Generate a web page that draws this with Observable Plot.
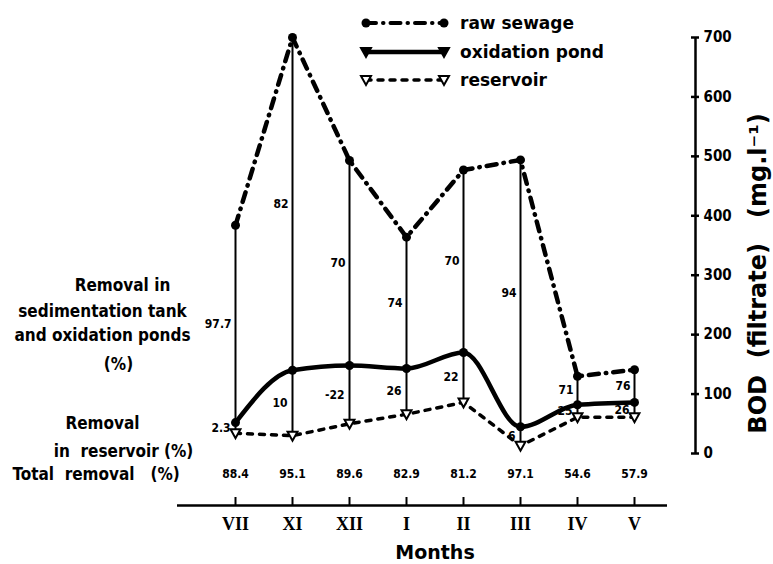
<!DOCTYPE html>
<html><head><meta charset="utf-8">
<script src="https://cdn.jsdelivr.net/npm/d3@7"></script>
<script src="https://cdn.jsdelivr.net/npm/@observablehq/plot@0.6"></script>
<style>
body{margin:0;background:#fff;}
#wrap{position:relative;width:773px;height:564px;}
#wrap svg{display:block;}
#legend{position:absolute;left:0;top:0;}
</style></head><body><div id="wrap"></div>
<script>
// ---- data ----
const months = ["VII","XI","XII","I","II","III","IV","V"];
const rawSewage = [384,700,493,364,477,494,130,141];
const oxidationPond = [52,140,148,143,170,45,82,86];
const reservoir = [34,30,50,66,86,13,61,61];
const removalSedOx = ["97.7","82","70","74","70","94","71","76"];
const removalReservoir = ["2.3","10","-22","26","22","6","25","26"];
const totalRemoval = ["88.4","95.1","89.6","82.9","81.2","97.1","54.6","57.9"];
const bodTicks = [0,100,200,300,400,500,600,700];
const seriesNames = ["raw sewage","oxidation pond","reservoir"];

const rows = months.map((m,i)=>({month:m, raw:rawSewage[i], ox:oxidationPond[i], res:reservoir[i],
  rSO:removalSedOx[i], rRes:removalReservoir[i], total:totalRemoval[i]}));

const cond = "'DejaVu Sans Condensed', 'DejaVu Sans', sans-serif";
const narrow = "'Liberation Sans Narrow', 'DejaVu Sans Condensed', sans-serif";
const wide = "'DejaVu Sans', sans-serif";
const serif = "'Liberation Serif', 'DejaVu Serif', serif";

const triDown = {draw(ctx, size){ const s = Math.sqrt(size);
  ctx.moveTo(-0.62*s,-0.5*s); ctx.lineTo(0.62*s,-0.5*s); ctx.lineTo(0,0.62*s); ctx.closePath(); }};

const lbl = {fontFamily:cond, fontWeight:"bold", fontSize:17, frameAnchor:"top-left",
  textAnchor:"middle", lineAnchor:"middle"};
const small = {fontFamily:narrow, fontWeight:"bold", fontSize:12};

const chart = Plot.plot({
  width:773, height:564,
  marginLeft:232, marginRight:136, marginTop:37, marginBottom:111,
  x:{type:"point", domain:months, padding:0},
  y:{domain:[0,700]},
  style:{background:"white", color:"black", fontFamily:cond},
  marks:[
    Plot.ruleX(rows, {x:"month", y1:"raw", y2:"res", strokeWidth:2}),
    Plot.line(rows, {x:"month", y:"res", curve:"linear", strokeWidth:3.5, strokeDasharray:"5,7"}),
    Plot.line(rows, {x:"month", y:"ox", curve:"monotone-x", strokeWidth:4.5}),
    Plot.line(rows, {x:"month", y:"raw", curve:"linear", strokeWidth:4.5, strokeDasharray:"10,7,0.5,7"}),
    Plot.dot(rows, {x:"month", y:"raw", r:4.5, fill:"black"}),
    Plot.dot(rows, {x:"month", y:"ox", r:4.5, fill:"black"}),
    Plot.dot(rows, {x:"month", y:"res", symbol:triDown, r:4.5, fill:"white", stroke:"black", strokeWidth:2}),
    Plot.text(rows, {x:"month", y:d=>(d.raw+d.ox)/2, text:"rSO", textAnchor:"end", dx:-4, ...small}),
    Plot.text(rows, {x:"month", y:d=>(d.ox+d.res)/2, text:"rRes", textAnchor:"end", dx:-5, ...small}),
    Plot.text(rows, {x:"month", text:"total", frameAnchor:"bottom", lineAnchor:"middle", dy:21, ...small}),
    // right axis
    Plot.axisY({anchor:"right", ticks:bodTicks, tickSize:8, tickPadding:5, dx:53, label:null,
      strokeWidth:2.5, fontFamily:narrow, fontWeight:"bold", fontSize:15}),
    Plot.ruleX([months[months.length-1]], {y1:bodTicks[0], y2:bodTicks[bodTicks.length-1], dx:61, strokeWidth:2.5}),
    Plot.text(["BOD  (filtrate)   (mg.l\u207B\u00B9)"], {frameAnchor:"right", textAnchor:"middle", lineAnchor:"middle",
      dx:121, dy:28, rotate:-90, fontFamily:wide, fontWeight:"bold", fontSize:24}),
    // bottom axis
    Plot.ruleY([0], {dy:52, insetLeft:-55, insetRight:-30, strokeWidth:2.5}),
    Plot.axisX({anchor:"bottom", dy:44, tickSize:8, strokeWidth:2, tickFormat:()=>"", label:null}),
    Plot.axisX({anchor:"bottom", dy:52, tickSize:0, tickPadding:12, label:null,
      fontFamily:serif, fontWeight:"bold", fontSize:18}),
    Plot.text(["Months"], {frameAnchor:"bottom", lineAnchor:"middle", dy:99,
      fontFamily:wide, fontWeight:"bold", fontSize:19}),
    // left row labels
    Plot.text(["Removal in"], {...lbl, dx:-110, dy:248}),
    Plot.text(["sedimentation tank\nand oxidation ponds"], {...lbl, dx:-130, dy:284, lineHeight:1.42}),
    Plot.text(["(%)"], {...lbl, dx:-114, dy:327}),
    Plot.text(["Removal"], {...lbl, dx:-130, dy:386}),
    Plot.text(["in  reservoir (%)"], {...lbl, dx:-109, dy:414}),
    Plot.text(["Total  removal   (%)"], {...lbl, textAnchor:"start", dx:-220, dy:437})
  ]
});
document.getElementById("wrap").appendChild(chart);

// legend overlay
const lg = d3.select("#wrap").append("svg").attr("id","legend").attr("width",773).attr("height",100);
const ys = [23,52,80];
const styles = [
  {dash:"10,7,0.5,7", w:4, mark:"dot"},
  {dash:null, w:4.5, mark:"tri"},
  {dash:"5,7", w:3.5, mark:"otri"}
];
seriesNames.forEach((name,i)=>{
  const y = ys[i], st = styles[i];
  const g = lg.append("g");
  g.append("line").attr("x1",366).attr("x2",444).attr("y1",y).attr("y2",y)
    .attr("stroke","black").attr("stroke-width",st.w).attr("stroke-linecap","round")
    .attr("stroke-dasharray",st.dash);
  [366,444].forEach(x=>{
    if(st.mark==="dot") g.append("circle").attr("cx",x).attr("cy",y).attr("r",4.5).attr("fill","black");
    else g.append("path").attr("d",`M${x-5},${y-4}L${x+5},${y-4}L${x},${y+5}Z`)
      .attr("fill",st.mark==="tri"?"black":"white").attr("stroke","black").attr("stroke-width",2);
  });
  g.append("text").attr("x",460).attr("y",y).attr("dy","0.35em")
    .attr("font-family","'DejaVu Sans', sans-serif").attr("font-weight","bold").attr("font-size",17)
    .text(name);
});
</script></body></html>
